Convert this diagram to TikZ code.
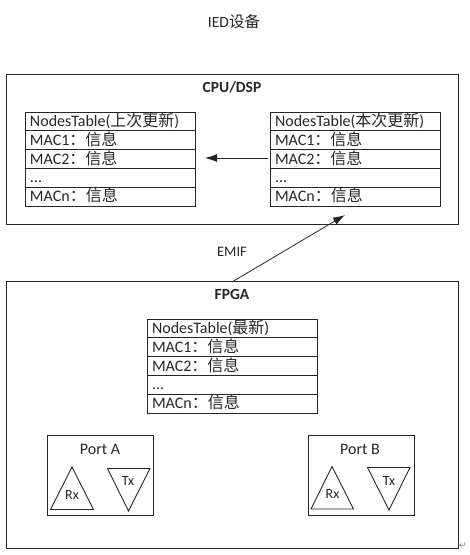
\documentclass[tikz,border=0pt]{standalone}
\usepackage{fontspec}
\setmainfont{Carlito}
\newfontfamily\cjk{Noto Sans CJK SC}
\newfontfamily\dejavu{DejaVu Sans}
\usetikzlibrary{arrows.meta}
\definecolor{ink}{HTML}{262626}
\newcommand{\cn}[1]{{\cjk #1}}
\newcommand{\info}{\cn{：信息}}
\tikzset{
  x=1pt,y=-1pt,
  frame/.style={draw=ink,line width=0.9pt,rectangle,inner sep=0pt,minimum width=452pt},
  portbox/.style={draw=ink,line width=0.9pt,rectangle,inner sep=0pt,minimum width=106pt,minimum height=80pt},
  row/.style={draw=ink,line width=0.8pt,rectangle,inner sep=0pt,outer sep=0pt,minimum width=170pt,text height=12pt,text depth=2pt,minimum height=18.8pt,text width=160pt,align=left,font=\fontsize{16}{16}\selectfont,text=ink},
  label/.style={inner sep=0pt,text=ink,font=\fontsize{14.5}{16}\selectfont},
  tri/.style={draw=ink,line width=0.9pt,line join=miter},
  conn/.style={draw=ink,line width=0.8pt,-{Latex[length=12pt,width=8pt]}},
}
\newcommand{\nodestable}[4]{%
  \node[row,anchor=north west] (#1h) at (#2,#3) {NodesTable(#4)};
  \node[row,anchor=north] (#1a) at (#1h.south) {MAC1\info};
  \node[row,anchor=north] (#1b) at (#1a.south) {MAC2\info};
  \node[row,anchor=north] (#1c) at (#1b.south) {...};
  \node[row,anchor=north] (#1n) at (#1c.south) {MACn\info};
}
\newcommand{\porttris}[9]{%
  \draw[tri] (#2) -- (#3) -- (#4) -- cycle;
  \node[label,font=\fontsize{14}{14}\selectfont] (#1r) at (#5) {Rx};
  \draw[tri] (#6) -- (#7) -- (#8) -- cycle;
  \node[label,font=\fontsize{14}{14}\selectfont] (#1t) at (#9) {Tx};
}
\begin{document}
\begin{tikzpicture}
\useasboundingbox (0,0) rectangle (470,555);
\node[label,font=\fontsize{15.5}{16}\selectfont] (title) at (234,22) {IED\cn{设备}};

\node[frame,anchor=north west,minimum height=150pt] (cpu) at (6,74) {};
\node[label,font=\bfseries\fontsize{15.5}{16}\selectfont] (cpul) at (232,87) {CPU/DSP};
\nodestable{l}{25}{112}{\cn{上次更新}}
\nodestable{r}{270}{112}{\cn{本次更新}}

\node[label] (emif) at (232,252) {EMIF};

\node[frame,anchor=north west,minimum height=267pt] (fpga) at (6,281) {};
\node[label,font=\bfseries\fontsize{15.5}{16}\selectfont] (fpgal) at (232,294) {FPGA};
\nodestable{m}{147}{319}{\cn{最新}}

\node[portbox,anchor=north west] (pa) at (47,435) {};
\node[label,font=\fontsize{16}{16}\selectfont] (pal) at (100,449) {Port A};
\node[portbox,anchor=north west] (pb) at (308,435) {};
\node[label,font=\fontsize{16}{16}\selectfont] (pbl) at (360,449) {Port B};

\porttris{a}{72,467}{50.5,509.5}{93.5,509.5}{72,495.5}{107.5,468.5}{150,468.5}{128.5,511}{128,481.5}
\porttris{b}{332,466.5}{311,509}{353.5,509}{332.5,494.5}{367.5,467.5}{410,467.5}{389,510}{389,481.5}

\coordinate (ctail) at (268,158);
\coordinate (chead) at (205,158);
\draw[conn] (ctail) -- (chead);
\coordinate (etail) at (232,282);
\coordinate (ehead) at (345,215);
\draw[conn] (etail) -- (ehead);

\node[inner sep=0pt,text=gray,font=\dejavu\fontsize{9}{10}\selectfont] (ret) at (463,546) {↵};
\end{tikzpicture}
\end{document}
